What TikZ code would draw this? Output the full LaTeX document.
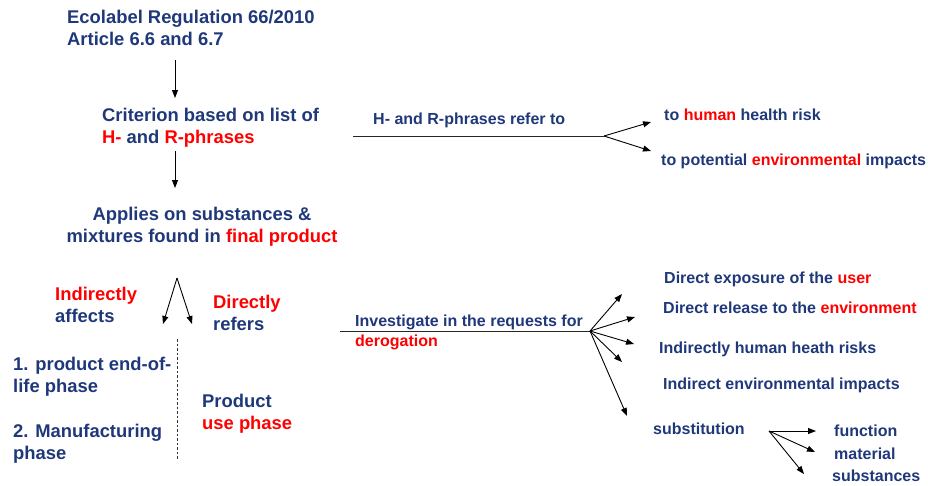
\documentclass[tikz,border=0pt]{standalone}
\usepackage{fontspec}
\setmainfont{Liberation Sans}
\usetikzlibrary{arrows.meta}
\definecolor{navy}{RGB}{31,56,122}
\definecolor{ecored}{RGB}{255,0,0}
\newcommand{\rd}[1]{\textcolor{ecored}{#1}}
\tikzset{
  bigtxt/.style={font=\fontsize{18.4}{22}\selectfont\bfseries, text=navy, align=left, inner sep=0pt, anchor=north west},
  smalltxt/.style={font=\fontsize{16}{20}\selectfont\bfseries, text=navy, align=left, inner sep=0pt, anchor=north west},
  arr/.style={draw=black, line width=0.9pt, -{Triangle[length=8pt,width=6pt]}},
  plainline/.style={draw=black!85, line width=1pt},
  dotline/.style={draw=black!80, line width=0.9pt, dash pattern=on 2.5pt off 2pt}
}
\begin{document}
\begin{tikzpicture}[x=1pt,y=-1pt]
\useasboundingbox (0,0) rectangle (928,485);
% left column texts
\node[bigtxt] (reg) at (67,10) {Ecolabel Regulation 66/2010\\Article 6.6 and 6.7};
\node[bigtxt] (crit) at (102,108) {Criterion based on list of\\\rd{H-} and \rd{R-phrases}};
\node[bigtxt, align=center, anchor=north] (appl) at (202,207) {Applies on substances \&\\mixtures found in \rd{final product}};
\node[bigtxt] (indir) at (55,287) {\rd{Indirectly}\\affects};
\node[bigtxt] (dir) at (213,295) {\rd{Directly}\\refers};
\node[bigtxt] (eol) at (13,357) {1. product end-of-\\life phase};
\node[bigtxt] (manu) at (13,424) {2. Manufacturing\\phase};
\node[bigtxt] (use) at (202,394) {Product\\\rd{use phase}};
% right texts
\node[smalltxt] (refer) at (373,113) {H- and R-phrases refer to};
\node[smalltxt] (human) at (664,109) {to \rd{human} health risk};
\node[smalltxt] (envimp) at (661,154) {to potential \rd{environmental} impacts};
\node[smalltxt] (invest) at (355,315) {Investigate in the requests for\\\rd{derogation}};
\node[smalltxt] (dexp) at (664,272) {Direct exposure of the \rd{user}};
\node[smalltxt] (drel) at (663,302) {Direct release to the \rd{environment}};
\node[smalltxt] (ihh) at (659,342) {Indirectly human heath risks};
\node[smalltxt] (iei) at (663,378) {Indirect environmental impacts};
\node[smalltxt] (subst) at (653,423) {substitution};
\node[smalltxt] (func) at (834,425) {function};
\node[smalltxt] (mat) at (834,448) {material};
\node[smalltxt] (subs) at (832,470) {substances};
% coordinates
\coordinate (a1s) at (175,60);  \coordinate (a1e) at (175,98);
\coordinate (a2s) at (175,151); \coordinate (a2e) at (175,188);
\coordinate (vtop) at (177,278); \coordinate (vl) at (163,324); \coordinate (vr) at (192,324);
\coordinate (dot1) at (177,339); \coordinate (dot2) at (177,460);
\coordinate (hl1) at (353,136); \coordinate (hl2) at (604,136);
\coordinate (t1) at (651,122); \coordinate (t2) at (651,151);
\coordinate (il1) at (340,331); \coordinate (il2) at (590,331);
\coordinate (f1) at (622,294); \coordinate (f2) at (635,317); \coordinate (f3) at (634,344);
\coordinate (f4) at (622,362); \coordinate (f5) at (627,416);
\coordinate (so) at (769,431);
\coordinate (s1) at (816,431); \coordinate (s2) at (815,452); \coordinate (s3) at (804,474);
% connectors
\draw[arr] (a1s) -- (a1e);
\draw[arr] (a2s) -- (a2e);
\draw[arr] (vtop) -- (vl);
\draw[arr] (vtop) -- (vr);
\draw[dotline] (dot1) -- (dot2);
\draw[plainline] (hl1) -- (hl2);
\draw[arr] (hl2) -- (t1);
\draw[arr] (hl2) -- (t2);
\draw[plainline] (il1) -- (il2);
\foreach \t in {f1,f2,f3,f4,f5} {\draw[arr] (il2) -- (\t);}
\foreach \t in {s1,s2,s3} {\draw[arr] (so) -- (\t);}
\end{tikzpicture}
\end{document}
